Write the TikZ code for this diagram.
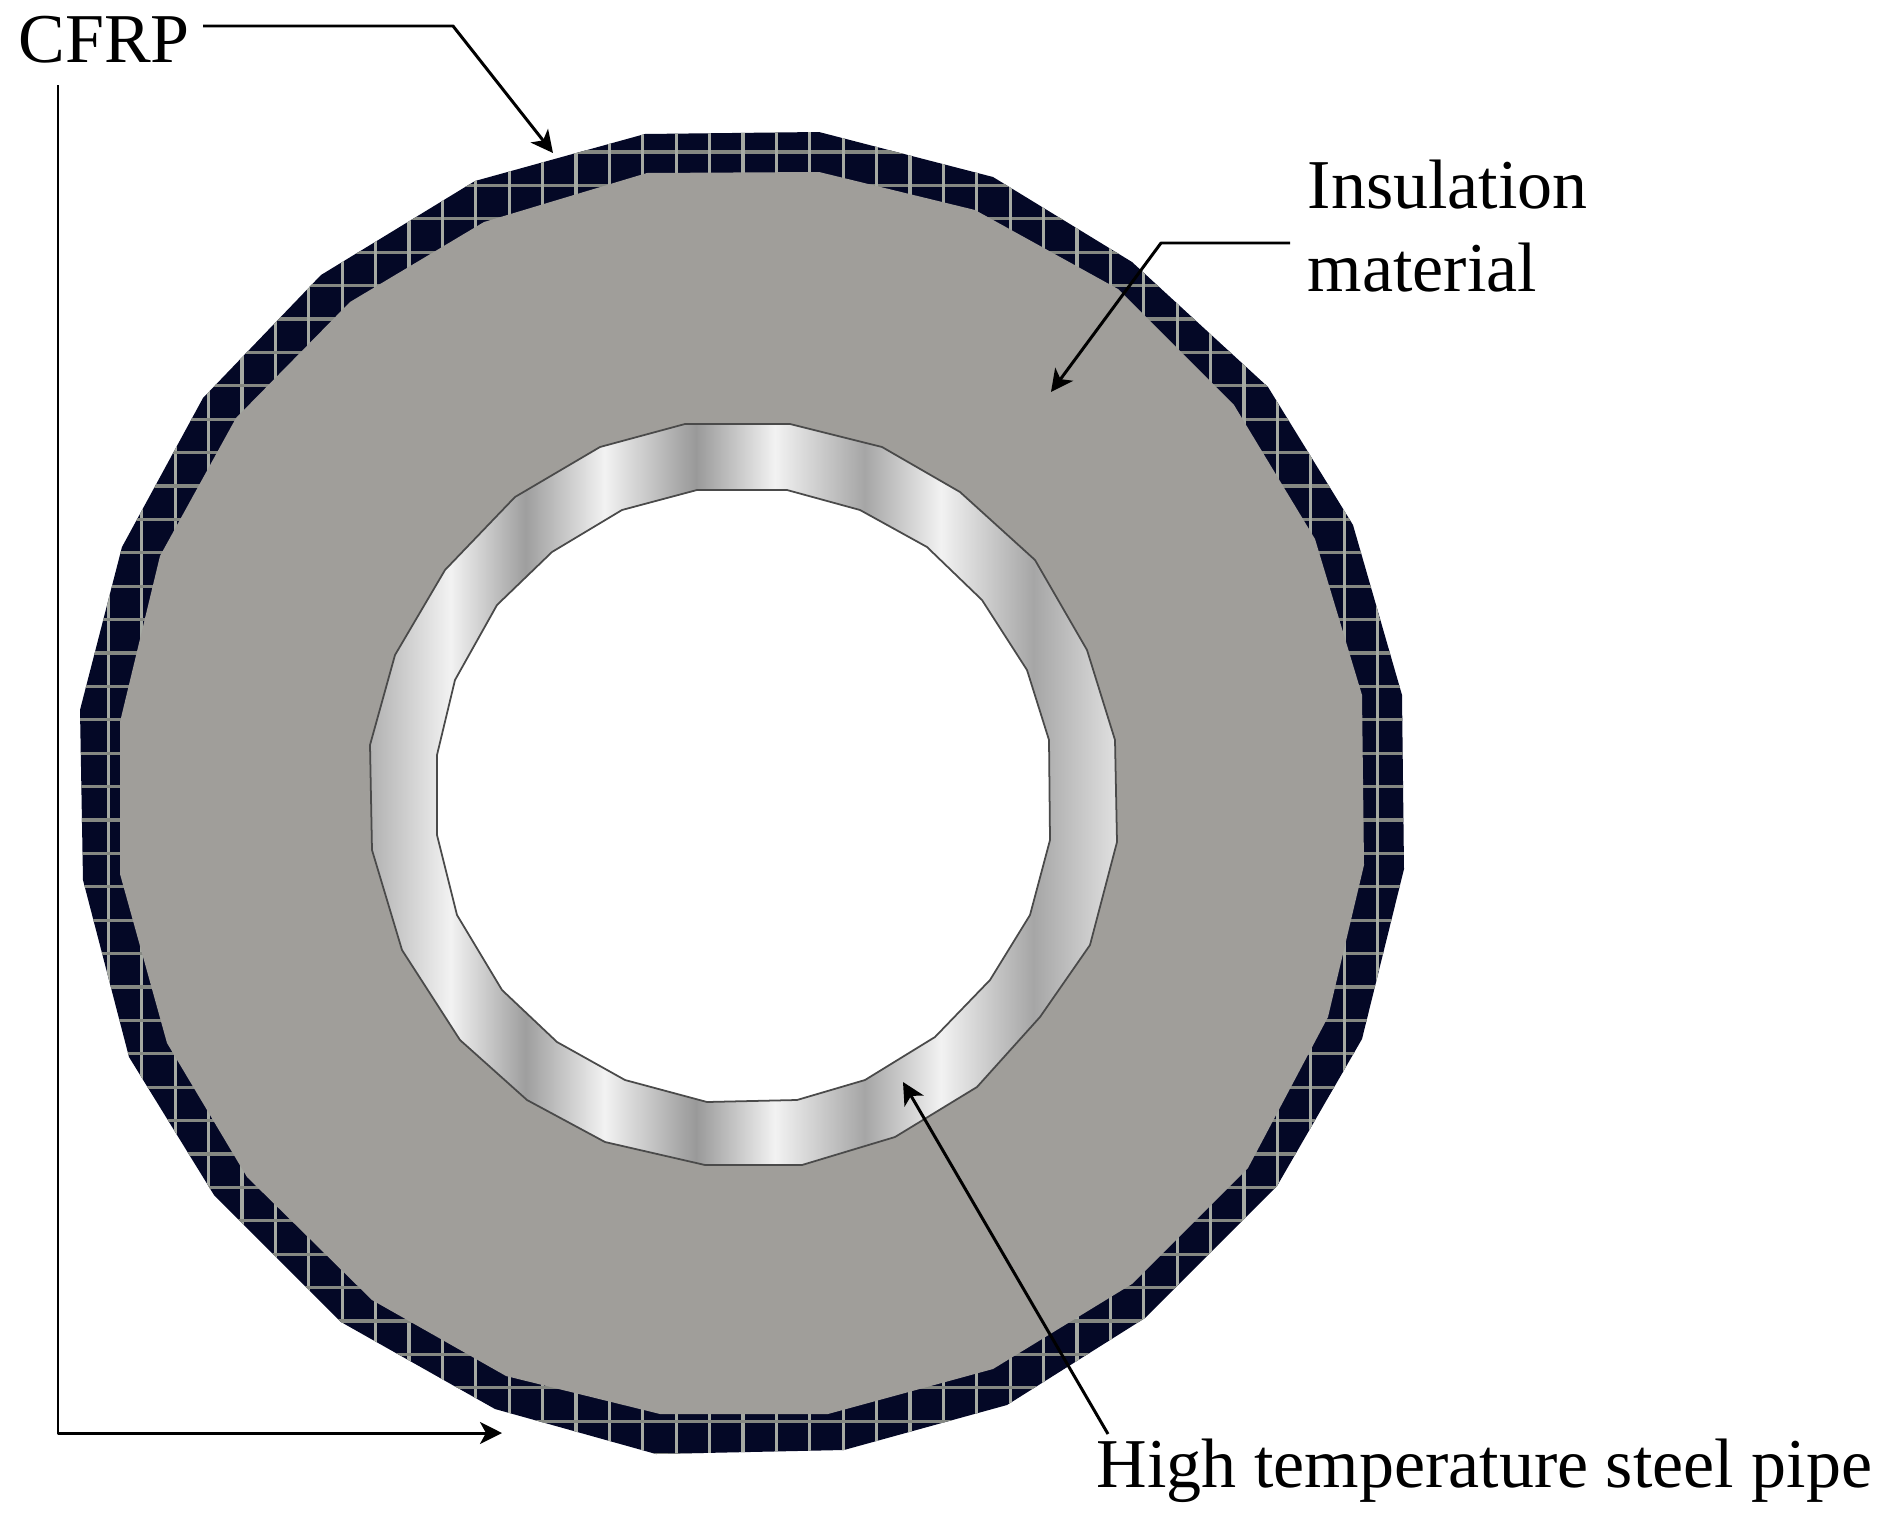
\documentclass[tikz,border=0pt]{standalone}
\usepackage{fontspec}
\setmainfont{Liberation Serif}
\usetikzlibrary{arrows.meta}

\definecolor{cfrpdark}{HTML}{040826}
\definecolor{cfrpweave}{HTML}{A6AAA3}
\definecolor{insulgray}{HTML}{A09E9A}
\definecolor{steeledge}{HTML}{4A4A4A}

\pgfdeclarehorizontalshading{steelshade}{100bp}{
	color(0bp)=(black!30); color(25.1bp)=(black!30); color(30.4bp)=(black!5);
	color(35.4bp)=(black!38); color(40.7bp)=(black!5); color(46.8bp)=(black!40);
	color(52.1bp)=(black!5); color(58.1bp)=(black!35); color(63.2bp)=(black!5);
	color(69.4bp)=(black!35); color(75bp)=(black!12); color(100bp)=(black!12)}

\tikzset{
	label/.style={font=\fontsize{19.9}{23.6}\selectfont, inner sep=0pt},
	leader/.style={line width=0.85pt, line join=round, -{Stealth[length=2.2mm,width=2.2mm,inset=0.6mm]}},
}

\begin{document}
\begin{tikzpicture}[x=0.01cm,y=-0.01cm]
		\useasboundingbox (0, 0) rectangle (1884, 1518);
		
		% carbon fibre wrap
		\begin{scope}
			\clip (645,134) -- (819,132) -- (993,177) -- (1132,262) -- (1268,387) -- (1353,525) -- (1402,695) --
				  (1404,869) -- (1362,1039) -- (1277,1186) -- (1145,1318) -- (1007,1405) -- (844,1450) --
				  (656,1454) -- (495,1409) -- (341,1322) -- (214,1195) -- (129,1057) -- (83,880) -- (80,710) --
				  (122,547) -- (203,398) -- (321,275) -- (475,181) -- cycle;
			\fill[cfrpdark] (0, 0) rectangle (1884, 1518);
			\foreach \k in {0,...,40} {
				\draw[cfrpweave, line width=0.9pt] ({75+33.4*\k}, 100) -- ({75+33.4*\k}, 1480);
				\draw[cfrpweave!80!black, line width=0.9pt] (60, {152+33.4*\k}) -- (1420, {152+33.4*\k});
			}
		\end{scope}
		
		% insulation
		\fill[insulgray] (647,173) -- (819,172) -- (975,210) -- (1118,289) -- (1234,405) -- (1315,539) --
						 (1362,695) -- (1364,865) -- (1328,1017) -- (1248,1168) -- (1132,1284) -- (993,1369) --
						 (828,1414) -- (660,1414) -- (506,1376) -- (372,1300) -- (247,1177) -- (167,1043) --
						 (120,874) -- (120,722) -- (160,556) -- (236,418) -- (350,302) -- (484,222) -- cycle;
		
		% steel pipe wall
		\shade[shading=steelshade, draw=steeledge, line width=0.5pt]
			(685,424) -- (790,424) -- (882,447) -- (960,492) -- (1035,560) -- (1087,650) -- (1115,740) --
			(1117,842) -- (1090,945) -- (1040,1017) -- (977,1087) -- (895,1137) -- (802,1165) -- (705,1165) --
			(605,1142) -- (527,1100) -- (460,1040) -- (402,950) -- (372,850) -- (370,745) -- (395,655) --
			(445,570) -- (515,497) -- (600,447) -- cycle;
		
		% bore
		\fill[white, draw=steeledge, line width=0.5pt]
			(697,490) -- (787,490) -- (860,510) -- (927,547) -- (982,600) -- (1027,670) -- (1049,740) --
			(1050,840) -- (1030,915) -- (990,980) -- (935,1037) -- (865,1080) -- (797,1100) -- (707,1102) --
			(625,1080) -- (557,1042) -- (502,990) -- (457,915) -- (437,835) -- (437,755) -- (455,680) --
			(497,605) -- (552,552) -- (622,510) -- cycle;
		
		% labels
		\node (cfrp) [label, anchor=base west] at (18, 62) {CFRP};
		\node (insul) [label, anchor=west, align=left] at (1307, 226) {Insulation\\material};
		\node (steel) [label, anchor=base west] at (1096, 1487) {High temperature steel pipe};
		
		% leader ends
		\coordinate (cfrpa) at (203, 26);
		\coordinate (cfrpb) at (453, 26);
		\coordinate (cfrptip) at (553, 153);
		\coordinate (wrapa) at (58, 85);
		\coordinate (wrapb) at (58, 1433);
		\coordinate (wraptip) at (502, 1433);
		\coordinate (insula) at (1290, 243);
		\coordinate (insulb) at (1161, 243);
		\coordinate (insultip) at (1051, 392);
		\coordinate (steela) at (1108, 1434);
		\coordinate (steeltip) at (903, 1082);
		
		% leaders
		\draw[leader] (cfrpa) -- (cfrpb) -- (cfrptip);
		\draw[leader] (wrapa) -- (wrapb) -- (wraptip);
		\draw[leader] (insula) -- (insulb) -- (insultip);
		\draw[leader] (steela) -- (steeltip);
		
	\end{tikzpicture}
\end{document}
